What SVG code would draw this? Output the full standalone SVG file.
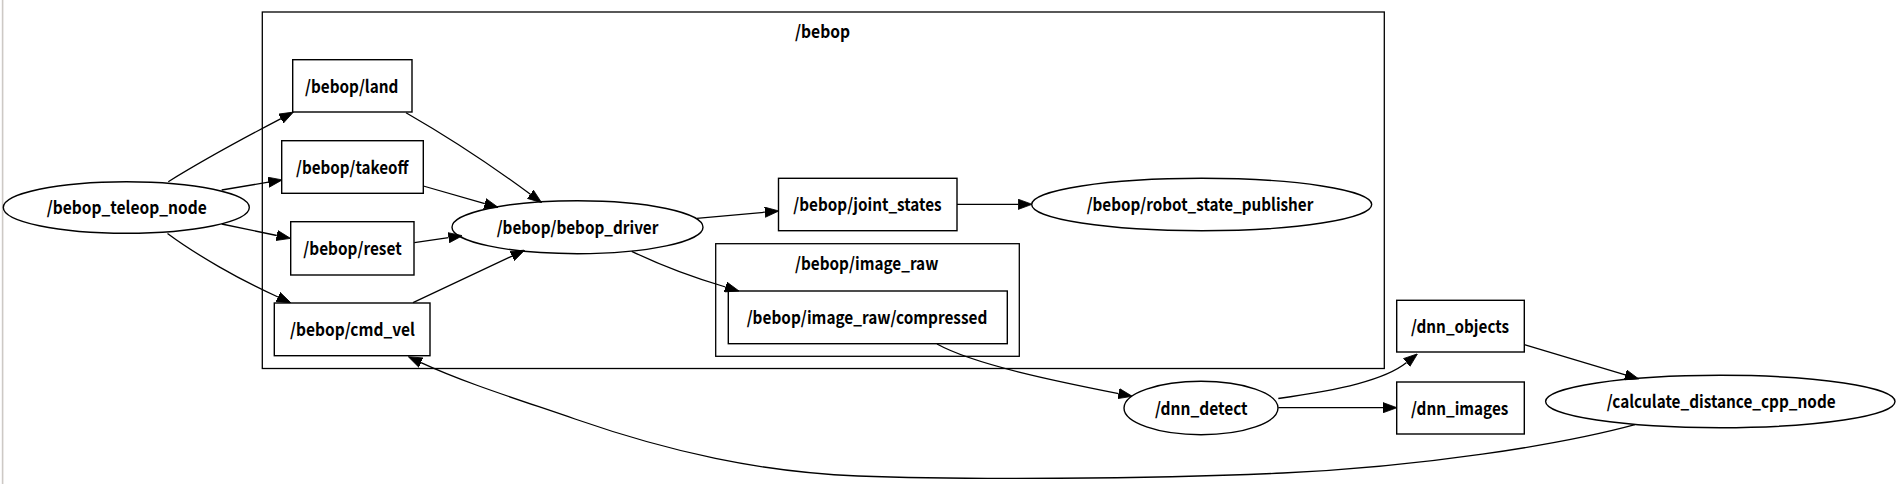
<svg xmlns="http://www.w3.org/2000/svg" width="1897" height="484" viewBox="0 0 1897 484">
<style>
  .shape { fill: none; stroke: #000; stroke-width: 1.4; }
  .cluster { fill: none; stroke: #000; stroke-width: 1.3; }
  .edge { fill: none; stroke: #000; stroke-width: 1.3; marker-end: url(#arrow); }
  text { font-family: "Noto Sans CJK SC", "Noto Sans", sans-serif; font-size: 17.5px; font-weight: 600; text-anchor: middle; fill: #000; }
</style>
<defs>
  <marker id="arrow" viewBox="0 0 14 11" refX="0" refY="5.5" markerWidth="14" markerHeight="11" markerUnits="userSpaceOnUse" orient="auto">
    <path d="M0,0.4 L14,5.5 L0,10.6 z" fill="#000" stroke="#000" stroke-width="0.8"/>
  </marker>
</defs>
<rect x="0" y="0" width="1897" height="484" fill="#fff"/>
<rect x="1.8" y="0" width="1.6" height="484" fill="#cdc9c5"/>

<g id="cluster_bebop">
  <rect class="cluster" x="262.3" y="12" width="1122" height="356.5"/>
  <text x="822.5" y="37.5" textLength="55" lengthAdjust="spacingAndGlyphs">/bebop</text>
</g>
<g id="cluster_image_raw">
  <rect class="cluster" x="715.7" y="243.7" width="303.6" height="112.6"/>
  <text x="866.7" y="269.5" textLength="143.3" lengthAdjust="spacingAndGlyphs">/bebop/image_raw</text>
</g>

<g id="connectors">
  <path class="edge" d="M168.3,181.7 C200,162 240,140 281,118.6"/>
  <path class="edge" d="M221.7,190 L268.4,182.2"/>
  <path class="edge" d="M221.7,224 L276.8,235.5"/>
  <path class="edge" d="M167.5,233.5 C195,254 240,280 278,297"/>
  <path class="edge" d="M406,112.7 C450,138 495,168 530.4,194.3"/>
  <path class="edge" d="M423.3,186 L484.8,203.6"/>
  <path class="edge" d="M414.3,242.7 L448.6,237.7"/>
  <path class="edge" d="M413,302.7 L512,256.1"/>
  <path class="edge" d="M696.7,218.3 L764.9,212.2"/>
  <path class="edge" d="M957,204.3 L1018.2,204.3"/>
  <path class="edge" d="M631.7,251.3 C660,265 695,278 725.5,287"/>
  <path class="edge" d="M937,344 C975,365 1060,382 1118.6,393.6"/>
  <path class="edge" d="M1278.3,398.5 C1340,390 1385,380 1406.6,362.6"/>
  <path class="edge" d="M1278.3,407.7 L1383,407.7"/>
  <path class="edge" d="M1524.3,344.7 L1625.3,374.9"/>
  <path class="edge" d="M1635,424.7 C1560,445 1420,467 1283,473 C1150,479 960,480 858,476 C760,472 670,452 575,419 C520,400 465,383 421,362.6"/>
</g>

<g id="node_teleop">
  <ellipse class="shape" cx="126.3" cy="207.5" rx="123" ry="25.8"/>
  <text x="126.7" y="214.3" textLength="160" lengthAdjust="spacingAndGlyphs">/bebop_teleop_node</text>
</g>
<g id="node_land">
  <rect class="shape" x="292.7" y="59.7" width="119.3" height="52.3"/>
  <text x="351.7" y="92.5" textLength="93.3" lengthAdjust="spacingAndGlyphs">/bebop/land</text>
</g>
<g id="node_takeoff">
  <rect class="shape" x="281.7" y="140.7" width="141.6" height="52.6"/>
  <text x="352.2" y="173.8" textLength="112.3" lengthAdjust="spacingAndGlyphs">/bebop/takeoff</text>
</g>
<g id="node_reset">
  <rect class="shape" x="290.7" y="221.7" width="123.3" height="53.3"/>
  <text x="352.5" y="255" textLength="98.3" lengthAdjust="spacingAndGlyphs">/bebop/reset</text>
</g>
<g id="node_cmd_vel">
  <rect class="shape" x="274.3" y="303" width="155.7" height="52.7"/>
  <text x="352.5" y="336" textLength="125" lengthAdjust="spacingAndGlyphs">/bebop/cmd_vel</text>
</g>
<g id="node_driver">
  <ellipse class="shape" cx="577.5" cy="227.2" rx="125.5" ry="26.5"/>
  <text x="577.5" y="234" textLength="161.7" lengthAdjust="spacingAndGlyphs">/bebop/bebop_driver</text>
</g>
<g id="node_joint_states">
  <rect class="shape" x="778.5" y="178.3" width="178.5" height="52.4"/>
  <text x="867.5" y="211.2" textLength="148.3" lengthAdjust="spacingAndGlyphs">/bebop/joint_states</text>
</g>
<g id="node_robot_state_publisher">
  <ellipse class="shape" cx="1201.7" cy="204.5" rx="170" ry="26.2"/>
  <text x="1200" y="211.2" textLength="226.7" lengthAdjust="spacingAndGlyphs">/bebop/robot_state_publisher</text>
</g>
<g id="node_compressed">
  <rect class="shape" x="728.3" y="291" width="279" height="52.7"/>
  <text x="867" y="324" textLength="240.7" lengthAdjust="spacingAndGlyphs">/bebop/image_raw/compressed</text>
</g>
<g id="node_dnn_detect">
  <ellipse class="shape" cx="1201" cy="408" rx="77" ry="26.7"/>
  <text x="1201.3" y="414.8" textLength="92.7" lengthAdjust="spacingAndGlyphs">/dnn_detect</text>
</g>
<g id="node_dnn_objects">
  <rect class="shape" x="1396.7" y="300.3" width="127.6" height="51.7"/>
  <text x="1460" y="333" textLength="98" lengthAdjust="spacingAndGlyphs">/dnn_objects</text>
</g>
<g id="node_dnn_images">
  <rect class="shape" x="1396.7" y="382" width="127.6" height="52"/>
  <text x="1459.7" y="414.8" textLength="97.3" lengthAdjust="spacingAndGlyphs">/dnn_images</text>
</g>
<g id="node_calculate">
  <ellipse class="shape" cx="1720.3" cy="401.5" rx="174.7" ry="26.2"/>
  <text x="1721.2" y="408.3" textLength="229" lengthAdjust="spacingAndGlyphs">/calculate_distance_cpp_node</text>
</g>
</svg>
